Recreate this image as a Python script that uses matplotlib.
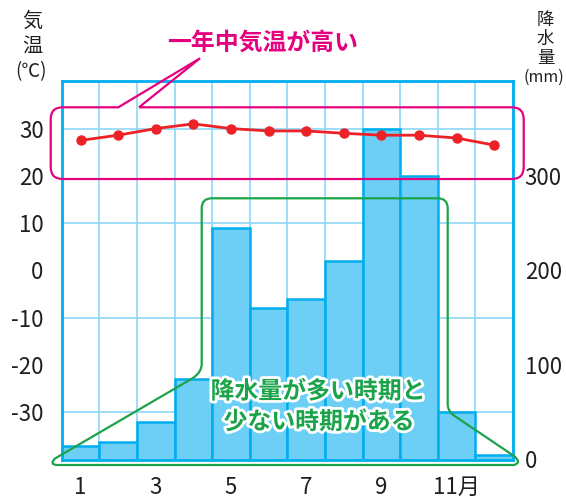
import numpy as np
import matplotlib
matplotlib.use("Agg")
import matplotlib.pyplot as plt
from matplotlib.path import Path
from matplotlib.patches import PathPatch
import matplotlib.patheffects as pe

plt.rcParams['font.family'] = ['Noto Sans CJK JP', 'DejaVu Sans']

# data
months = list(range(1, 13))
temperature = [27.5, 28.6, 30.0, 31.0, 30.0, 29.5, 29.5, 29.0, 28.6, 28.6, 28.0, 26.5]
precipitation = [14, 19, 40, 85, 245, 160, 170, 210, 350, 300, 50, 5]

month_ticks = [1, 3, 5, 7, 9, 11]
month_labels = ["1", "3", "5", "7", "9", "11月"]
temp_ticks = [-30, -20, -10, 0, 10, 20, 30]
temp_labels = ["-30", "-20", "-10", "0", "10", "20", "30"]
prec_ticks = [0, 100, 200, 300]
prec_labels = ["0", "100", "200", "300"]

BLUE = "#00aeef"
GRID = "#8dd7f7"
BAR = "#6dcff6"
RED = "#ec2227"
PINK = "#e4007f"
GREEN = "#1ba34a"
TXT = "#231f20"

W, H = 566, 499
fig = plt.figure(figsize=(W / 100, H / 100), dpi=100)

# precipitation axes (bars), right scale
ax = fig.add_axes([61.7 / W, 1 - 459.5 / H, (513 - 61.7) / W, (459.5 - 81.3) / H])
ax.bar(months, precipitation, width=1.0, color=BAR, edgecolor=BLUE, linewidth=1.8, zorder=2)
ax.set_xlim(0.5, 12.5)
ax.set_ylim(0, 400)
ax.set_xticks(month_ticks)
ax.set_xticklabels(month_labels)
ax.set_xticks(np.arange(0.5, 12.6, 1), minor=True)
ax.set_yticks(prec_ticks)
ax.set_yticklabels(prec_labels)
ax.set_yticks(np.arange(0, 401, 50), minor=True)
ax.grid(which="minor", color=GRID, linewidth=1.2, zorder=0)
ax.set_axisbelow(True)
for s in ax.spines.values():
    s.set_color(BLUE)
    s.set_linewidth(2)

# temperature axes (line), left scale
ax_t = ax.twinx()
ax_t.plot(months, temperature, color=RED, linewidth=2, marker="o", markersize=6.5, zorder=3)
ax_t.set_ylim(-40, 40)
ax_t.set_yticks(temp_ticks)
ax_t.set_yticklabels(temp_labels)
for s in ax_t.spines.values():
    s.set_visible(False)

# swap sides: temperature on the left, precipitation on the right
ax.yaxis.tick_right()
ax_t.yaxis.tick_left()
ax.tick_params(which="both", length=0)
ax.tick_params(axis="y", labelsize=16, labelcolor=TXT, pad=8.5,
               labelleft=False, labelright=True)
ax.tick_params(axis="x", labelsize=16, labelcolor=TXT, pad=12)
ax_t.tick_params(length=0, labelsize=16, labelcolor=TXT, pad=13,
                 labelleft=True, labelright=False)

# overlay in pixel coordinates for the callouts
ov = fig.add_axes([0, 0, 1, 1], zorder=10)
ov.set_xlim(0, W)
ov.set_ylim(H, 0)
ov.axis("off")

C3 = Path.CURVE3
L = Path.LINETO
pink_pts = [
    (139, 107.3), (511.7, 107.3), (523.7, 107.3), (523.7, 119.3),
    (523.7, 167), (523.7, 179), (511.7, 179), (62.7, 179),
    (50.7, 179), (50.7, 167), (50.7, 119.3), (50.7, 107.3),
    (62.7, 107.3), (118.3, 107.3), (200, 58.3), (139, 107.3),
]
pink_codes = [Path.MOVETO, L, C3, C3, L, C3, C3, L, C3, C3, L, C3, C3, L, L, L]
ov.add_patch(PathPatch(Path(pink_pts, pink_codes), facecolor="none",
                       edgecolor=PINK, linewidth=1.6, joinstyle="miter"))

green_pts = [
    (211.7, 198.3), (437.7, 198.3), (447.7, 198.3), (447.7, 208.3),
    (447.7, 404), (447.7, 410), (452.5, 414.5), (514, 456),
    (522, 462.5), (514, 465), (57, 465), (49, 464.5), (55, 458.5),
    (193, 378), (201.7, 372), (201.7, 364), (201.7, 208.3),
    (201.7, 198.3), (211.7, 198.3),
]
green_codes = [Path.MOVETO, L, C3, C3, L, C3, C3, L, C3, C3, L, C3, C3,
               L, C3, C3, L, C3, C3]
ov.add_patch(PathPatch(Path(green_pts, green_codes), facecolor="none",
                       edgecolor=GREEN, linewidth=1.6))

ov.text(263, 43, "一年中気温が高い", color=PINK, fontsize=17.2, fontweight="bold",
        ha="center", va="center")

stroke = [pe.withStroke(linewidth=4, foreground="white")]
ov.text(318, 391.5, "降水量が多い時期と", color=GREEN, fontsize=17.2, fontweight="bold",
        ha="center", va="center", path_effects=stroke)
ov.text(319, 422, "少ない時期がある", color=GREEN, fontsize=17.2, fontweight="bold",
        ha="center", va="center", path_effects=stroke)

# axis titles
for ch, y in [("気", 21), ("温", 46)]:
    ov.text(32.5, y, ch, color=TXT, fontsize=14.5, ha="center", va="center")
ov.text(31, 72, "(℃)", color=TXT, fontsize=13.5, ha="center", va="center")
for ch, y in [("降", 20), ("水", 39), ("量", 58)]:
    ov.text(545.5, y, ch, color=TXT, fontsize=12.5, ha="center", va="center")
ov.text(544, 77.5, "(mm)", color=TXT, fontsize=11.5, ha="center", va="center")

fig.savefig("out.png", dpi=100)
